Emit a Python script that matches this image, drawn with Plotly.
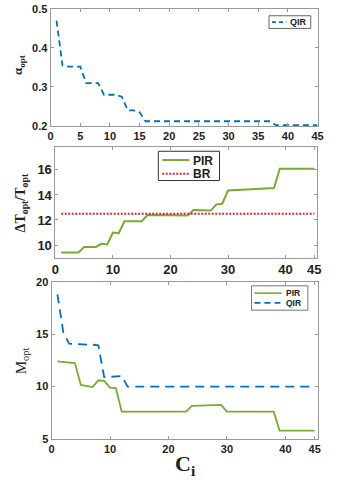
import plotly.graph_objects as go

# ---------------- data ----------------
ci = list(range(1, 46))

alpha_qir = [0.47, 0.355, 0.352, 0.352, 0.352, 0.31, 0.31, 0.31, 0.28, 0.28,
             0.28, 0.275, 0.24, 0.24, 0.235] + [0.212] * 22 + [0.202] * 8

dT_pir = [9.4, 9.4, 9.4, 9.4, 9.85, 9.85, 9.85, 10.1, 10.05, 11.0,
          10.95, 11.9, 11.9, 11.9, 11.9, 12.4, 12.4, 12.4, 12.38, 12.38,
          12.37, 12.36, 12.35, 12.8, 12.8, 12.78, 12.75, 13.25, 13.3, 14.35,
          14.38, 14.4, 14.42, 14.45, 14.47, 14.5, 14.52, 14.55, 16.1, 16.1,
          16.1, 16.1, 16.1, 16.1, 16.1]
dT_br = [12.5] * 45

M_pir = [12.4, 12.35, 12.3, 12.25, 10.15, 10.05, 9.95, 10.6, 10.55, 9.9,
         9.85] + [7.6] * 12 + [8.15, 8.17, 8.18, 8.2, 8.22, 8.25] + [7.6] * 9 + [5.8] * 7
M_qir = [18.8, 15.2, 14.1, 14.05, 14.05, 14.0, 14.0, 13.95, 10.9, 10.95,
         11.0, 11.0] + [10.0] * 33

x1_ticks = [0, 5, 10, 15, 20, 25, 30, 35, 40, 45]
x23_ticks = [0, 10, 20, 30, 40, 45]
y1_ticks = [0.2, 0.3, 0.4, 0.5]
y2_ticks = [10, 12, 14, 16]
y3_ticks = [5, 10, 15, 20]

BLUE = "#0072BD"
GREEN = "#77AC30"
RED = "#D42A2A"
AX = "#9a9a9a"
TXT = "#222222"

W, H = 342, 480

def px(x):
    return x / W

def py(y):
    return 1 - y / H

QIR_DASH1 = "6px,4px"
QIR_DASH3 = "9px,6px"
BR_DASH = "2px,1.5px"

fig = go.Figure()

fig.add_trace(go.Scatter(x=ci, y=alpha_qir, mode="lines", name="QIR",
                         line=dict(color=BLUE, width=1.8, dash=QIR_DASH1),
                         xaxis="x", yaxis="y"))
fig.add_trace(go.Scatter(x=ci, y=dT_pir, mode="lines", name="PIR",
                         line=dict(color=GREEN, width=2),
                         xaxis="x2", yaxis="y2"))
fig.add_trace(go.Scatter(x=ci, y=dT_br, mode="lines", name="BR",
                         line=dict(color=RED, width=2.2, dash=BR_DASH),
                         xaxis="x2", yaxis="y2"))
fig.add_trace(go.Scatter(x=ci, y=M_pir, mode="lines", name="PIR",
                         line=dict(color=GREEN, width=1.8),
                         xaxis="x3", yaxis="y3"))
fig.add_trace(go.Scatter(x=ci, y=M_qir, mode="lines", name="QIR",
                         line=dict(color=BLUE, width=1.8, dash=QIR_DASH3),
                         xaxis="x3", yaxis="y3"))

def axis(domain, rng, ticks, anchor, size, fmt=None):
    d = dict(domain=domain, range=rng, tickvals=ticks, anchor=anchor,
             showgrid=False, zeroline=False, showline=True, linecolor=AX,
             linewidth=1, mirror="ticks", ticks="inside", ticklen=3,
             tickcolor=AX, tickfont=dict(family="Liberation Sans", size=size,
                                         color=TXT, weight="bold"))
    if fmt:
        d["tickformat"] = fmt
    return d

fig.update_layout(
    width=W, height=H, autosize=False,
    margin=dict(l=0, r=0, t=0, b=0),
    paper_bgcolor="white", plot_bgcolor="white",
    showlegend=False,
    xaxis=axis([px(48), px(323)], [0, 45], x1_ticks, "y", 11),
    yaxis=axis([py(123), py(3)], [0.2, 0.5], y1_ticks, "x", 11, ".1f"),
    xaxis2=axis([px(53), px(322)], [0, 45.4], x23_ticks, "y2", 13),
    yaxis2=axis([py(258), py(145)], [9, 17.8], y2_ticks, "x2", 13),
    xaxis3=axis([px(49), px(323)], [0, 45.5], x23_ticks, "y3", 11),
    yaxis3=axis([py(444), py(283)], [5, 20], y3_ticks, "x3", 11),
)

# ---------- legends (boxes, sample lines, labels) ----------
def legend_box(x0, y0, x1, y1, border):
    fig.add_shape(type="rect", xref="paper", yref="paper",
                  x0=px(x0), x1=px(x1), y0=py(y1), y1=py(y0),
                  line=dict(color=border, width=1), fillcolor="white", layer="above")

def legend_item(xs0, xs1, y, color, width, dash, label, size):
    fig.add_shape(type="line", xref="paper", yref="paper",
                  x0=px(xs0), x1=px(xs1), y0=py(y), y1=py(y),
                  line=dict(color=color, width=width, dash=dash), layer="above")
    fig.add_annotation(text="<b>%s</b>" % label, x=px(xs1 + 2), y=py(y),
                       xref="paper", yref="paper", xanchor="left", yanchor="middle",
                       showarrow=False, height=size + 1,
                       font=dict(family="Liberation Sans", size=size, color=TXT))

legend_box(273, 10, 316, 23, "#666")
legend_item(276, 291, 16.5, BLUE, 1.6, "4px,3px", "QIR", 9)

legend_box(159, 149, 222, 179, "#333")
legend_item(163, 191, 158, GREEN, 2, None, "PIR", 12)
legend_item(163, 191, 172, RED, 2, "2px,1.5px", "BR", 12)

legend_box(255, 287, 313, 312, "#777")
legend_item(258, 286, 294.5, GREEN, 1.6, None, "PIR", 8.5)
legend_item(258, 286, 304.5, BLUE, 1.6, "6px,4px", "QIR", 8.5)

# ---------- axis titles ----------
SERIF = "Liberation Serif"
def title(text, x, y, size, angle=-90):
    fig.add_annotation(text=text, x=px(x), y=py(y), xref="paper", yref="paper",
                       xanchor="center", yanchor="middle", showarrow=False,
                       textangle=angle, font=dict(family=SERIF, size=size, color=TXT))

title("<b>α<sub>opt</sub></b>", 15, 61, 13)
title("<b>ΔT<sub>opt</sub>/T<sub>opt</sub></b>", 19, 202, 14)
title("M<sub>opt</sub>", 18, 364, 15)
title("<b>C<sub>i</sub></b>", 187, 471, 22, angle=0)

fig.write_html("out.html", config={"displayModeBar": False},
               post_script="document.body.style.margin='0';")
